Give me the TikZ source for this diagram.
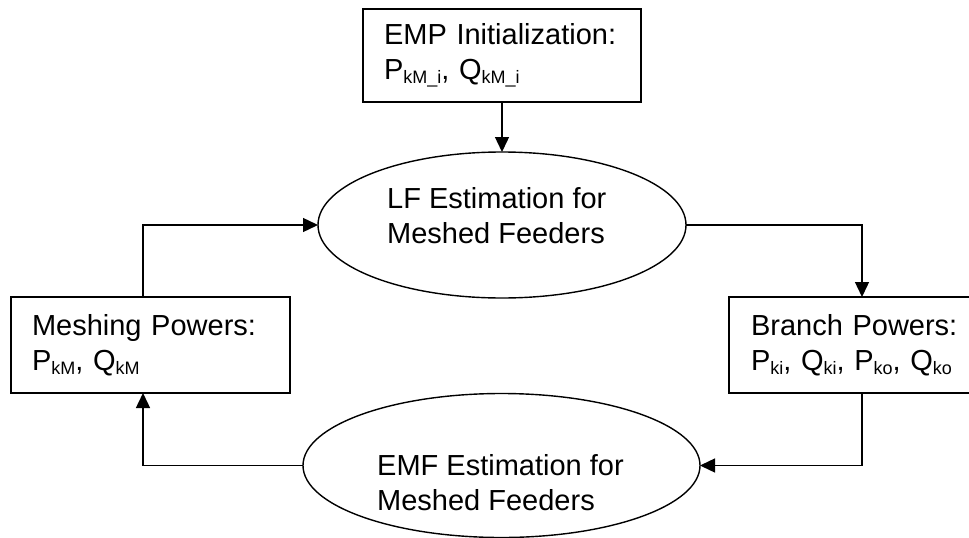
\documentclass[tikz,border=0pt]{standalone}
\usepackage{fontspec}
\setmainfont{Liberation Sans}
\usetikzlibrary{arrows.meta,shapes.geometric}
\newcommand{\sbx}[1]{\raisebox{-4pt}{\fontsize{18}{18}\selectfont #1}}
\newcommand{\diagfont}{\fontsize{29}{35}\selectfont\spaceskip=8.06pt\relax}
\begin{document}
\begin{tikzpicture}[x=1pt,y=-1pt,
  every node/.style={font=\diagfont},
  boxnode/.style={draw,line width=1.4pt,rectangle,inner xsep=21pt,inner ysep=0pt,outer sep=0pt,align=left},
  ellnode/.style={draw,line width=1.4pt,ellipse,inner sep=0pt,outer sep=0pt},
  txtnode/.style={inner sep=0pt,anchor=north west,align=left},
  conn/.style={line width=1.4pt,-{Triangle[length=15pt,width=14pt]}}]
\useasboundingbox (0,0) rectangle (969,538);
\clip (0,0) rectangle (969,538);
\node[boxnode,minimum width=278pt,minimum height=93pt,text width=236pt] (init) at (502,55.5)
  {EMP Initialization:\\P\sbx{kM\_i}, Q\sbx{kM\_i}};
\node[boxnode,minimum width=279pt,minimum height=96pt,text width=237pt] (mesh) at (150.5,345)
  {Meshing Powers:\\P\sbx{kM}, Q\sbx{kM}};
\node[boxnode,minimum width=266pt,minimum height=96pt,text width=222pt] (branch) at (862,345)
  {Branch Powers:\\P\sbx{ki}, Q\sbx{ki}, P\sbx{ko}, Q\sbx{ko}};
\node[ellnode,minimum width=368pt,minimum height=146pt] (lfe) at (502,225) {};
\node[txtnode] (lftext) at (387,187) {LF Estimation for\\Meshed Feeders};
\node[ellnode,minimum width=397pt,minimum height=144pt] (emf) at (501.5,465.5) {};
\node[txtnode] (emftext) at (377,454) {EMF Estimation for\\Meshed Feeders};
\coordinate (c1) at (branch.north |- lfe.east);
\coordinate (c2) at (branch.south |- emf.east);
\coordinate (c3) at (143,465.5);
\coordinate (c4) at (143,225);
\draw[conn] (init.south) -- (lfe.north);
\draw[conn] (lfe.east) -- (c1) -- (branch.north);
\draw[conn] (branch.south) -- (c2) -- (emf.east);
\draw[conn] (emf.west) -- (c3) -- (c3 |- mesh.south);
\draw[conn] (c4 |- mesh.north) -- (c4) -- (lfe.west);
\end{tikzpicture}
\end{document}
